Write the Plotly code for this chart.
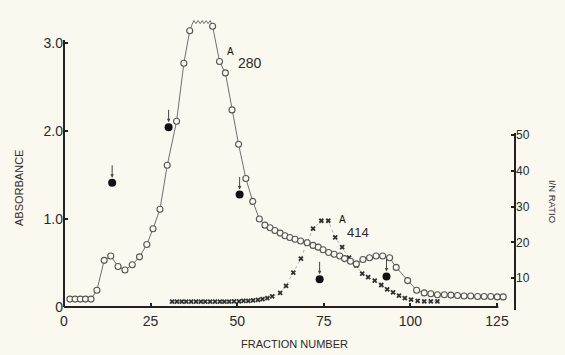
import plotly.graph_objects as go

# ---------------- data ----------------
# A280 (open circles), absorbance, left axis
a280_fraction = [1.7, 3.2, 4.7, 6.2, 7.8, 9.5, 11.6, 13.5, 15.6, 17.6, 19.7, 21.8, 23.9,
                 25.7, 27.7, 29.8, 32.5, 34.6, 36.3, 42.9, 44.9, 46.6, 48.5, 50.4, 52.5,
                 54.5, 56.4, 58.0, 59.5, 60.9, 62.4, 63.8, 65.2, 66.7, 68.3, 70.2, 71.9,
                 73.4, 74.8, 76.4, 78.0, 79.6, 81.0, 82.7, 84.4, 86.3, 88.2, 90.1, 92.0,
                 94.0, 95.9, 99.2, 101.8, 104.0, 105.9, 107.8, 109.8, 111.7, 113.6, 115.5,
                 117.4, 119.4, 121.3, 123.2, 125.1, 126.8]
a280_value = [0.09, 0.09, 0.09, 0.09, 0.09, 0.19, 0.53, 0.58, 0.46, 0.42, 0.48, 0.57, 0.71,
              0.89, 1.11, 1.61, 2.11, 2.77, 3.14, 3.19, 2.79, 2.66, 2.24, 1.85, 1.46,
              1.20, 1.00, 0.93, 0.90, 0.87, 0.84, 0.81, 0.79, 0.77, 0.75, 0.73, 0.70,
              0.68, 0.65, 0.62, 0.60, 0.58, 0.55, 0.52, 0.49, 0.54, 0.56, 0.58, 0.58,
              0.56, 0.45, 0.30, 0.19, 0.16, 0.15, 0.14, 0.14, 0.135, 0.13, 0.125,
              0.125, 0.12, 0.12, 0.12, 0.115, 0.115]

# off-scale recorder trace at the top of the A280 peak (zig-zag)
offscale_fraction = [36.97, 37.5, 38.1, 38.7, 39.3, 39.9, 40.4, 41.0, 41.6, 42.2]
offscale_value = [3.21, 3.255, 3.22, 3.255, 3.22, 3.255, 3.22, 3.255, 3.22, 3.255]

# A414 (crosses), absorbance, left axis
a414_fraction = [31.2, 32.6, 34.0, 35.3, 36.7, 38.1, 39.5, 40.8, 42.2, 43.6, 45.0, 46.3,
                 47.7, 49.1, 50.5, 51.8, 53.2, 54.6, 56.0, 57.3, 58.7, 60.1, 62.4, 64.1,
                 66.2, 68.4, 70.2, 71.9, 74.3, 76.3, 78.3, 80.3, 82.3, 84.4, 86.1, 87.8,
                 89.7, 91.6, 93.3, 95.0, 96.7, 98.4, 100.2, 102.1, 104.0, 105.9, 107.8]
a414_value = [0.06, 0.06, 0.06, 0.06, 0.06, 0.06, 0.06, 0.06, 0.06, 0.06, 0.06, 0.06,
              0.06, 0.065, 0.065, 0.07, 0.07, 0.075, 0.08, 0.09, 0.10, 0.12, 0.16, 0.24,
              0.39, 0.55, 0.74, 0.89, 0.98, 0.98, 0.79, 0.68, 0.56, 0.47, 0.38, 0.34,
              0.30, 0.25, 0.20, 0.165, 0.13, 0.10, 0.085, 0.07, 0.065, 0.065, 0.065]

# I/N ratio (filled dots), right axis
ratio_fraction = [13.9, 30.2, 50.7, 73.8, 93.1]
ratio_value = [36.7, 52.2, 33.4, 9.7, 10.5]

x_ticks = [0, 25, 50, 75, 100, 125]
x_ticklabels = ["0", "25", "50", "75", "100", "125"]
left_ticks = [0, 1, 2, 3]
left_ticklabels = ["0", "1.0", "2.0", "3.0"]
right_ticks = [10, 20, 30, 40, 50]
right_ticklabels = ["10", "20", "30", "40", "50"]

# ---------------- figure ----------------
BG = "#faf8ef"
INK = "#2a2a2a"
FONT = "Liberation Sans"

# A280 connecting line passes through the off-scale zig-zag
split = a280_fraction.index(36.3) + 1
line_x = a280_fraction[:split] + offscale_fraction + a280_fraction[split:]
line_y = a280_value[:split] + offscale_value + a280_value[split:]

fig = go.Figure()

fig.add_trace(go.Scatter(
    x=a414_fraction, y=a414_value, mode="lines+markers",
    line=dict(color="#a0a0a0", width=0.8, dash="dot"),
    marker=dict(symbol="x-thin", size=4, color="#303030", line=dict(width=1.8, color="#303030")),
    showlegend=False, hoverinfo="skip"))

fig.add_trace(go.Scatter(
    x=line_x, y=line_y, mode="lines",
    line=dict(color="#707070", width=1),
    showlegend=False, hoverinfo="skip"))

fig.add_trace(go.Scatter(
    x=a280_fraction, y=a280_value, mode="markers",
    marker=dict(symbol="circle", size=6, color=BG, line=dict(width=1.1, color="#555555")),
    showlegend=False, hoverinfo="skip"))

fig.add_trace(go.Scatter(
    x=ratio_fraction, y=ratio_value, mode="markers", yaxis="y2",
    marker=dict(symbol="circle", size=8, color="#111111"),
    cliponaxis=False, showlegend=False, hoverinfo="skip"))

annotations = []
for fx, fv in zip(ratio_fraction, ratio_value):
    annotations.append(dict(
        x=fx, y=fv, xref="x", yref="y2", text="", showarrow=True,
        ax=0, ay=-19, arrowhead=2, arrowsize=0.7, arrowwidth=1,
        arrowcolor="#444444", standoff=5))

annotations += [
    dict(x=48.0, y=2.90, xref="x", yref="y", text="A", showarrow=False,
         font=dict(family=FONT, size=10, color="#111111")),
    dict(x=53.6, y=2.77, xref="x", yref="y", text="280", showarrow=False,
         font=dict(family=FONT, size=14, color=INK)),
    dict(x=80.3, y=0.99, xref="x", yref="y", text="A", showarrow=False,
         font=dict(family=FONT, size=10, color="#111111")),
    dict(x=84.8, y=0.85, xref="x", yref="y", text="414", showarrow=False,
         font=dict(family=FONT, size=13, color=INK)),
    dict(x=-0.118, y=0.40, xref="paper", yref="paper", text="ABSORBANCE",
         textangle=-90, showarrow=False, font=dict(family=FONT, size=11, color=INK)),
    dict(x=0.512, y=-0.15, xref="paper", yref="paper", text="FRACTION NUMBER",
         showarrow=False, font=dict(family=FONT, size=11, color=INK)),
    dict(x=1.10, y=0.276, xref="paper", yref="paper", text="I/N RATIO",
         textangle=90, showarrow=False, font=dict(family=FONT, size=9.5, color=INK)),
]

shapes = [
    # left axis line
    dict(type="line", xref="paper", yref="paper", x0=0, x1=0, y0=0, y1=0.899,
         line=dict(color="#222222", width=2)),
    # bottom axis line
    dict(type="line", xref="paper", yref="paper", x0=0, x1=0.963, y0=0, y1=0,
         line=dict(color="#222222", width=2)),
    # right axis line
    dict(type="line", xref="paper", yref="paper", x0=1, x1=1, y0=-0.010, y1=0.586,
         line=dict(color="#222222", width=2)),
]

fig.update_layout(
    width=565, height=355,
    margin=dict(l=63.5, r=50, t=10, b=48),
    paper_bgcolor=BG, plot_bgcolor=BG,
    font=dict(family=FONT, color=INK),
    showlegend=False,
    annotations=annotations,
    shapes=shapes,
    xaxis=dict(range=[0, 130.2], showgrid=False, zeroline=False, showline=False,
               tickvals=x_ticks, ticktext=x_ticklabels, ticks="inside", ticklen=4,
               tickwidth=1.5, tickcolor="#222222", ticklabelstandoff=4,
               tickfont=dict(family=FONT, size=14, color=INK)),
    yaxis=dict(range=[0, 3.375], showgrid=False, zeroline=False, showline=False,
               tickvals=left_ticks, ticktext=left_ticklabels, ticks="inside", ticklen=4,
               tickwidth=1.5, tickcolor="#222222",
               tickfont=dict(family=FONT, size=14, color=INK)),
    yaxis2=dict(range=[1.96, 85.0], overlaying="y", side="right", showgrid=False,
                zeroline=False, showline=False, tickvals=right_ticks,
                ticktext=right_ticklabels, ticks="inside", ticklen=4, tickwidth=1.5,
                tickcolor="#222222", tickfont=dict(family=FONT, size=12, color=INK)),
)

fig.write_html("out.html")
